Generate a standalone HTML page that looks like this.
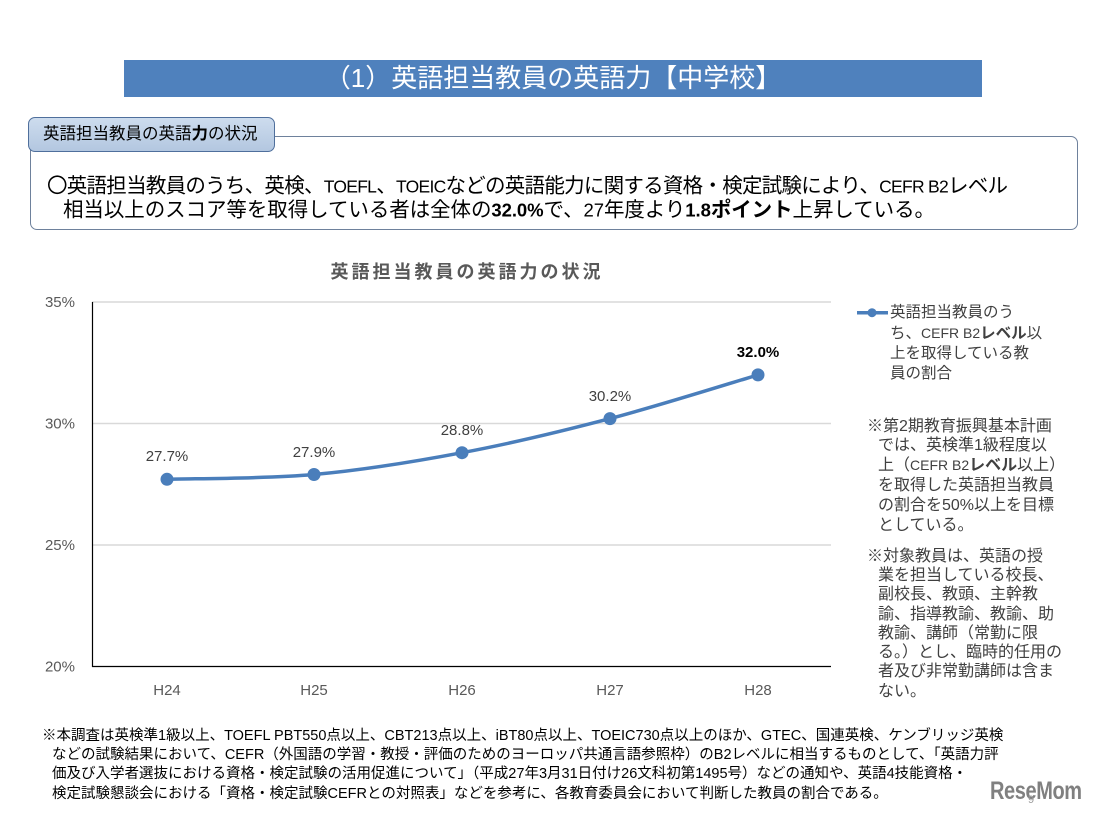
<!DOCTYPE html>
<html lang="ja">
<head>
<meta charset="utf-8">
<style>
  html, body { margin:0; padding:0; }
  body { width:1101px; height:814px; position:relative; background:#fff; overflow:hidden;
         font-family:"Liberation Sans","Noto Sans CJK JP",sans-serif; color:#000; }
  .abs { position:absolute; white-space:nowrap; }
  .banner { left:124px; top:60px; width:858px; height:37px; background:#4f81bd; color:#fff;
            font-size:26px; line-height:37px; text-align:center; }
  .box { left:30px; top:136px; width:1046px; height:92px; border:1px solid #6e819c; border-radius:7px; background:#fff; }
  .tab { left:28px; top:117px; width:245px; height:33px; border:1px solid #4f6f9c; border-radius:7px;
         background:linear-gradient(#cddcee,#b3c7e0); font-size:16.5px; line-height:33px; }
  .tab span { position:absolute; left:14px; }
  .leg { left:890px; top:302.7px; font-size:15.5px; line-height:20px; color:#404040; }
  .note { font-size:16px; line-height:19.8px; color:#404040; }
  .note .i { padding-left:11px; }
  .n { font-size:14px; }
  .foot { left:42px; top:727px; font-size:14.5px; line-height:19.2px; color:#000; }
  .foot .i { padding-left:10px; }
  .logo { left:990px; top:776px; font-size:25px; font-weight:bold; color:#808080; line-height:30px;
          transform:scaleX(0.8); transform-origin:left center; letter-spacing:-0.5px; }
</style>
</head>
<body>
  <div class="abs banner">（1）英語担当教員の英語力【中学校】</div>

  <div class="abs box"></div>
  <div class="abs tab"><span>英語担当教員の英語<b>力</b>の状況</span></div>

  <svg class="abs" style="left:0;top:0" width="1101" height="814" viewBox="0 0 1101 814" xmlns="http://www.w3.org/2000/svg"
       font-family="Liberation Sans, Noto Sans CJK JP, sans-serif">
    <!-- body text -->
    <text x="47" y="192.5" font-size="20.5" fill="#000" textLength="961" lengthAdjust="spacing">〇英語担当教員のうち、英検、<tspan font-size="17.5">TOEFL</tspan>、<tspan font-size="17.5">TOEIC</tspan>などの英語能力に関する資格・検定試験により、<tspan font-size="17.5">CEFR B2</tspan>レベル</text>
    <text x="63" y="216.5" font-size="20.5" fill="#000" textLength="872" lengthAdjust="spacing">相当以上のスコア等を取得している者は全体の<tspan font-weight="bold" font-size="18.5">32.0%</tspan>で、<tspan font-size="18.5">27</tspan>年度より<tspan font-weight="bold" font-size="18.5">1.8</tspan><tspan font-weight="bold">ポイント</tspan>上昇している。</text>

    <text x="467" y="278" text-anchor="middle" font-size="18" font-weight="bold" letter-spacing="3" fill="#595959">英語担当教員の英語力の状況</text>
    <!-- gridlines -->
    <g stroke="#d9d9d9" stroke-width="1.5">
      <line x1="92" y1="302" x2="831" y2="302"/>
      <line x1="92" y1="423.5" x2="831" y2="423.5"/>
      <line x1="92" y1="545" x2="831" y2="545"/>
    </g>
    <!-- axes -->
    <line x1="92.5" y1="302" x2="92.5" y2="667" stroke="#000" stroke-width="1.2"/>
    <line x1="92" y1="666.5" x2="831" y2="666.5" stroke="#000" stroke-width="1.2"/>
    <!-- y labels -->
    <g font-size="15" fill="#595959" text-anchor="end">
      <text x="75" y="307">35%</text>
      <text x="75" y="428.5">30%</text>
      <text x="75" y="550">25%</text>
      <text x="75" y="671.5">20%</text>
    </g>
    <!-- x labels -->
    <g font-size="15" fill="#595959" text-anchor="middle">
      <text x="167" y="695">H24</text>
      <text x="314" y="695">H25</text>
      <text x="462" y="695">H26</text>
      <text x="610" y="695">H27</text>
      <text x="758" y="695">H28</text>
    </g>
    <!-- series -->
    <path d="M167,479.3 C191.5,478.5 264.8,478.9 314,474.5 C363.2,470.1 412.7,462.0 462,452.7 C511.3,443.4 560.7,431.6 610,418.6 C659.3,405.6 733.3,382.2 758,374.9"
          fill="none" stroke="#4a7ebb" stroke-width="3.5" stroke-linecap="round"/>
    <g fill="#4a7ebb">
      <circle cx="167" cy="479.3" r="6.5"/>
      <circle cx="314" cy="474.5" r="6.5"/>
      <circle cx="462" cy="452.7" r="6.5"/>
      <circle cx="610" cy="418.6" r="6.5"/>
      <circle cx="758" cy="374.9" r="6.5"/>
    </g>
    <!-- data labels -->
    <g font-size="15" fill="#404040" text-anchor="middle">
      <text x="167" y="461">27.7%</text>
      <text x="314" y="457">27.9%</text>
      <text x="462" y="435">28.8%</text>
      <text x="610" y="401">30.2%</text>
      <text x="758" y="357" font-weight="bold" fill="#000">32.0%</text>
    </g>
    <!-- legend -->
    <line x1="857" y1="312.7" x2="888" y2="312.7" stroke="#4a7ebb" stroke-width="3.5"/>
    <circle cx="872" cy="312.7" r="4.5" fill="#4a7ebb"/>
  </svg>

  <div class="abs leg">英語担当教員のう<br>ち、<span class="n">CEFR B2</span><b>レベル</b>以<br>上を取得している教<br>員の割合</div>

  <div class="abs note" style="left:867px; top:416.7px;">
    ※第2期教育振興基本計画<br>
    <span class="i">では、英検準1級程度以</span><br>
    <span class="i">上（<span class="n">CEFR B2</span><b>レベル</b>以上）</span><br>
    <span class="i">を取得した英語担当教員</span><br>
    <span class="i">の割合を50%以上を目標</span><br>
    <span class="i">としている。</span>
  </div>

  <div class="abs note" style="left:867px; top:546.7px; line-height:19.3px;">
    ※対象教員は、英語の授<br>
    <span class="i">業を担当している校長、</span><br>
    <span class="i">副校長、教頭、主幹教</span><br>
    <span class="i">諭、指導教諭、教諭、助</span><br>
    <span class="i">教諭、講師（常勤に限</span><br>
    <span class="i">る。）とし、臨時的任用の</span><br>
    <span class="i">者及び非常勤講師は含ま</span><br>
    <span class="i">ない。</span>
  </div>

  <div class="abs foot">
    ※本調査は英検準1級以上、TOEFL PBT550点以上、CBT213点以上、iBT80点以上、TOEIC730点以上のほか、GTEC、国連英検、ケンブリッジ英検<br>
    <span class="i">などの試験結果において、CEFR（外国語の学習・教授・評価のためのヨーロッパ共通言語参照枠）のB2レベルに相当するものとして、「英語力評</span><br>
    <span class="i">価及び入学者選抜における資格・検定試験の活用促進について」（平成27年3月31日付け26文科初第1495号）などの通知や、英語4技能資格・</span><br>
    <span class="i">検定試験懇談会における「資格・検定試験CEFRとの対照表」などを参考に、各教育委員会において判断した教員の割合である。</span>
  </div>

  <div class="abs logo">ReseMom</div>
  <div class="abs" style="left:1028px; top:794px; font-size:11px; color:#999;">9</div>
</body>
</html>
